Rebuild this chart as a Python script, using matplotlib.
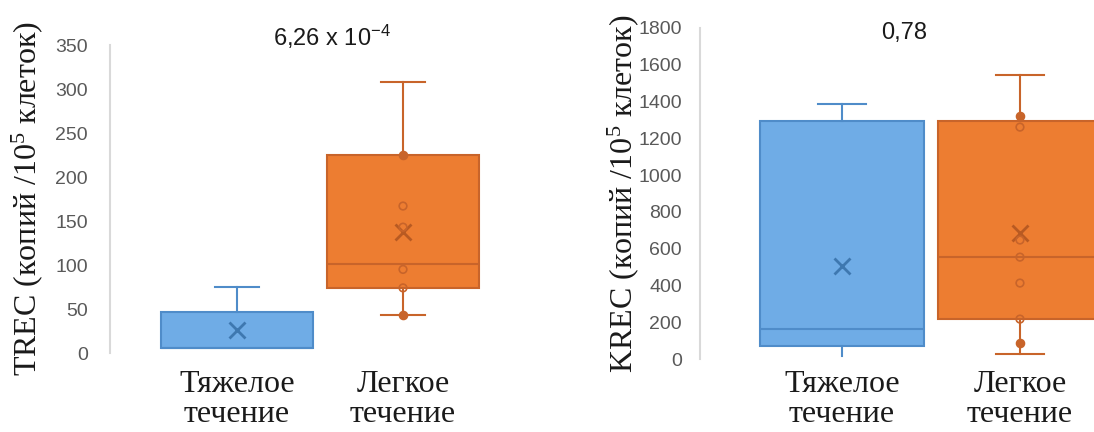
import matplotlib.pyplot as plt

plt.rcParams['mathtext.default'] = 'regular'

# categories
categories = ['Тяжелое\nтечение', 'Легкое\nтечение']

# TREC box stats
trec_severe = dict(q1=6, med=6, q3=47, whislo=6, whishi=75, mean=26)
trec_mild = dict(q1=74, med=101, q3=225, whislo=43, whishi=308, mean=138)
trec_mild_points = [167, 143, 95, 74]
trec_mild_filled = [225, 43]
trec_p = '6,26 x 10$^{-4}$'

# KREC box stats
krec_severe = dict(q1=71, med=163, q3=1294, whislo=16, whishi=1386, mean=506)
krec_mild = dict(q1=217, med=554, q3=1294, whislo=27, whishi=1543, mean=685)
krec_mild_points = [1261, 647, 554, 413, 217]
krec_mild_filled = [1320, 87]
krec_p = '0,78'

blue, blue_edge = '#6FACE6', '#4F8CC9'
orange, orange_edge = '#ED7D31', '#C8642A'
tick_font = ['Liberation Sans Narrow', 'Liberation Sans', 'DejaVu Sans']
serif = ['Liberation Serif', 'DejaVu Serif']

W, H = 1094, 432
fig = plt.figure(figsize=(W / 100, H / 100), dpi=100)


def px_axes(left, right, top, bottom):
    return fig.add_axes([left / W, 1 - bottom / H, (right - left) / W, (bottom - top) / H])


def draw(ax, stats, points, filled, ylim, yticks, ylabel, ptext, pxy, xlim, width,
         caps_hide, tick_pad, x_pad):
    stats = [dict(s, fliers=[]) for s in stats]
    bp = ax.bxp(stats, positions=[1, 2], widths=width, patch_artist=True,
                showmeans=True, capwidths=0.27, manage_ticks=False)
    for box, fc, ec in zip(bp['boxes'], [blue, orange], [blue_edge, orange_edge]):
        box.set_facecolor(fc)
        box.set_edgecolor(ec)
        box.set_linewidth(1.5)
    for i, ec in enumerate([blue_edge, blue_edge, orange_edge, orange_edge]):
        bp['whiskers'][i].set(color=ec, linewidth=1.5)
        bp['caps'][i].set(color=ec, linewidth=1.5)
    for i in caps_hide:
        bp['caps'][i].set_visible(False)
    for med, ec in zip(bp['medians'], [blue_edge, orange_edge]):
        med.set(color=ec, linewidth=1.5)
    for mean, ec in zip(bp['means'], ['#3E78B0', '#B85A22']):
        mean.set(marker='x', markersize=11, markeredgecolor=ec, markeredgewidth=2,
                 markerfacecolor='none')
    ax.scatter([2] * len(points), points, s=30, facecolors='none',
               edgecolors=orange_edge, linewidths=1.2, zorder=4)
    ax.scatter([2] * len(filled), filled, s=35, color=orange_edge, zorder=4)

    ax.set_xlim(*xlim)
    ax.set_ylim(*ylim)
    ax.set_yticks(yticks)
    ax.set_yticklabels([str(t) for t in yticks], family=tick_font, fontsize=14, color='#595959')
    ax.set_xticks([1, 2])
    ax.set_xticklabels(categories, family=serif, fontsize=23, color='#1a1a1a', linespacing=1.05)
    ax.tick_params(axis='y', length=0, pad=tick_pad)
    ax.tick_params(axis='x', length=0, pad=x_pad)
    for s in ['top', 'right', 'bottom']:
        ax.spines[s].set_visible(False)
    ax.spines['left'].set_color('#D9D9D9')
    ax.spines['left'].set_linewidth(1.5)
    ax.set_ylabel(ylabel, family=serif, fontsize=23, color='#1a1a1a')
    ax.text(pxy[0], pxy[1], ptext, transform=ax.transAxes, ha='center', va='center',
            family=tick_font, fontsize=17, color='#1a1a1a')


ax1 = px_axes(110, 490, 45, 353)
draw(ax1, [trec_severe, trec_mild], trec_mild_points, trec_mild_filled,
     (0, 350), list(range(0, 351, 50)), 'TREC (копий /10$^5$ клеток)',
     trec_p, (0.584, 1.026), (0.235, 2.524), 0.91, [0], 16, 12)
ax1.yaxis.set_label_coords(-0.172, 0.5)

ax2 = px_axes(700, 1110, 28, 359)
draw(ax2, [krec_severe, krec_mild], krec_mild_points, krec_mild_filled,
     (0, 1800), list(range(0, 1801, 200)), 'KREC (копий /10$^5$ клеток)',
     krec_p, (0.498, 0.985), (0.202, 2.506), 0.92, [0], 13, 8)
ax2.yaxis.set_label_coords(-0.145, 0.5)

fig.savefig('out.png', dpi=100)
